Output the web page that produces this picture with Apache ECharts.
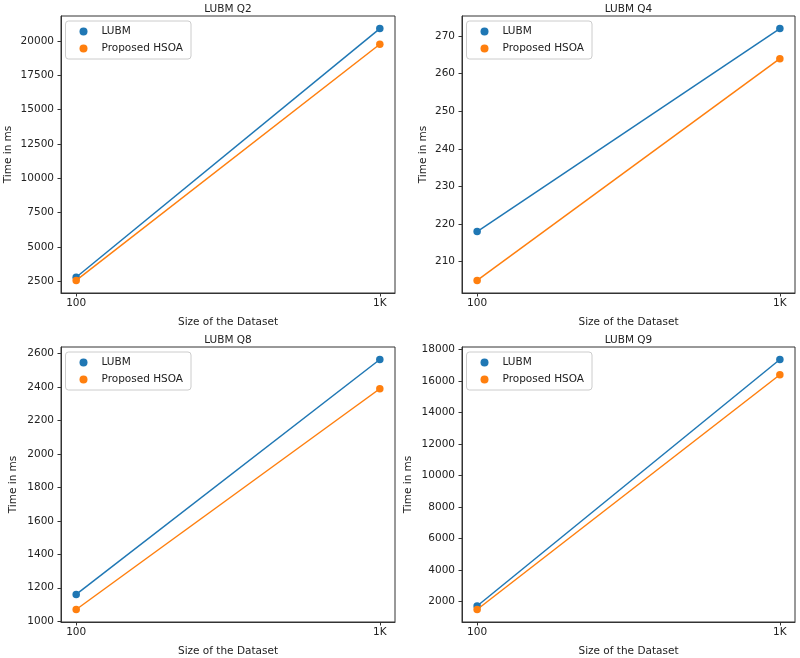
<!DOCTYPE html>
<html>
<head>
<meta charset="utf-8">
<script src="https://cdn.jsdelivr.net/npm/echarts@6/dist/echarts.min.js"></script>
<style>
html,body{margin:0;padding:0;background:#fff;}
#chart{width:800px;height:658px;}
</style>
</head>
<body>
<div id="chart"></div>
<script>
// ---- data ----
const xLabels = ['100', '1K'];
const seriesNames = ['LUBM', 'Proposed HSOA'];
const titles = ['LUBM Q2', 'LUBM Q4', 'LUBM Q8', 'LUBM Q9'];

const q2Lubm = [2800, 20900];
const q2Hsoa = [2570, 19760];
const q4Lubm = [218, 272];
const q4Hsoa = [205, 264];
const q8Lubm = [1160, 2565];
const q8Hsoa = [1070, 2390];
const q9Lubm = [1720, 17370];
const q9Hsoa = [1500, 16400];

const q2Ticks = [2500, 5000, 7500, 10000, 12500, 15000, 17500, 20000];
const q4Ticks = [210, 220, 230, 240, 250, 260, 270];
const q8Ticks = [1000, 1200, 1400, 1600, 1800, 2000, 2200, 2400, 2600];
const q9Ticks = [2000, 4000, 6000, 8000, 10000, 12000, 14000, 16000, 18000];

const panels = [
  { lubm: q2Lubm, hsoa: q2Hsoa, ticks: q2Ticks },
  { lubm: q4Lubm, hsoa: q4Hsoa, ticks: q4Ticks },
  { lubm: q8Lubm, hsoa: q8Hsoa, ticks: q8Ticks },
  { lubm: q9Lubm, hsoa: q9Hsoa, ticks: q9Ticks }
];

// ---- layout ----
const grids = [
  { left: 61, top: 16, width: 334, height: 277 },
  { left: 462, top: 16, width: 333, height: 277 },
  { left: 61, top: 347, width: 334, height: 277 },
  { left: 462, top: 347, width: 333, height: 277 }
];
const yNameGaps = [47, 33, 42, 48];
const titleTops = [4, 335];

const FONT = 'DejaVu Sans';
const TXT = '#222';
const FS = 10.5;
const colors = ['#1f77b4', '#ff7f0e'];

const option = {
  animation: false,
  backgroundColor: '#fff',
  title: [],
  legend: [],
  grid: [],
  xAxis: [],
  yAxis: [],
  series: []
};

panels.forEach((p, i) => {
  const g = grids[i];
  option.grid.push({
    left: g.left, top: g.top, width: g.width, height: g.height,
    show: true, borderColor: '#333', borderWidth: 1, backgroundColor: 'transparent'
  });
  option.title.push({
    text: titles[i],
    left: g.left + g.width / 2,
    top: titleTops[i < 2 ? 0 : 1],
    textAlign: 'center',
    padding: 0,
    textStyle: { fontFamily: FONT, fontSize: FS, fontWeight: 'normal', color: TXT }
  });
  option.legend.push({
    data: seriesNames,
    orient: 'vertical',
    left: g.left + 4.5,
    top: g.top + 5,
    padding: [4, 8, 4, 14],
    itemGap: 4,
    itemWidth: 26,
    itemHeight: 8,
    icon: 'circle',
    backgroundColor: 'rgba(255,255,255,0.8)',
    borderColor: '#ccc',
    borderWidth: 1,
    borderRadius: 3,
    selectedMode: false,
    textStyle: { fontFamily: FONT, fontSize: FS, color: TXT, lineHeight: 13 }
  });
  option.xAxis.push({
    type: 'value',
    gridIndex: i,
    min: -0.05,
    max: 1.05,
    name: 'Size of the Dataset',
    nameLocation: 'middle',
    nameGap: 24,
    nameTextStyle: { fontFamily: FONT, fontSize: FS, color: TXT, verticalAlign: 'top' },
    axisLine: { show: true, onZero: false, lineStyle: { color: '#333', width: 1 } },
    axisTick: { show: true, inside: false, length: 3.5, customValues: [0, 1], lineStyle: { color: '#333' } },
    axisLabel: {
      customValues: [0, 1],
      formatter: v => xLabels[Math.round(v)],
      fontFamily: FONT, fontSize: FS, color: TXT, margin: 5
    },
    splitLine: { show: false }
  });
  const all = p.lubm.concat(p.hsoa);
  const dmin = Math.min.apply(null, all), dmax = Math.max.apply(null, all);
  const pad = (dmax - dmin) * 0.05;
  option.yAxis.push({
    type: 'value',
    gridIndex: i,
    min: dmin - pad,
    max: dmax + pad,
    name: 'Time in ms',
    nameLocation: 'middle',
    nameGap: yNameGaps[i],
    nameTextStyle: { fontFamily: FONT, fontSize: FS, color: TXT },
    axisLine: { show: true, onZero: false, lineStyle: { color: '#333', width: 1 } },
    axisTick: { show: true, inside: false, length: 3.5, customValues: p.ticks, lineStyle: { color: '#333' } },
    axisLabel: {
      customValues: p.ticks,
      formatter: v => String(Math.round(v)),
      fontFamily: FONT, fontSize: FS, color: TXT, margin: 7
    },
    splitLine: { show: false }
  });
  [p.lubm, p.hsoa].forEach((vals, k) => {
    option.series.push({
      name: seriesNames[k],
      type: 'line',
      xAxisIndex: i,
      yAxisIndex: i,
      data: vals.map((v, j) => [j, v]),
      symbol: 'circle',
      symbolSize: 7.5,
      showSymbol: true,
      color: colors[k],
      lineStyle: { color: colors[k], width: 1.5 },
      itemStyle: { color: colors[k] },
      emphasis: { disabled: true },
      z: 2 + k
    });
  });
});

const chart = echarts.init(document.getElementById('chart'), null, { renderer: 'canvas' });
chart.setOption(option);
</script>
</body>
</html>
